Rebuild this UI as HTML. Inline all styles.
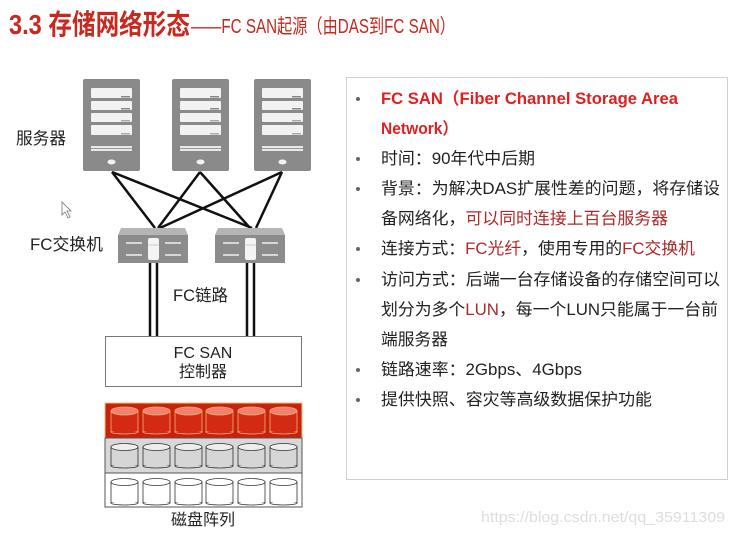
<!DOCTYPE html>
<html><head><meta charset="utf-8"><style>
html,body{margin:0;padding:0;background:#fff;}
body{width:733px;height:533px;overflow:hidden;position:relative;font-family:"Liberation Sans","Noto Sans CJK SC",sans-serif;}
</style></head><body>
<svg width="733" height="533" viewBox="0 0 733 533" xmlns="http://www.w3.org/2000/svg" style="position:absolute;left:0;top:0">
<defs>
<g id="srv">
<rect x="0" y="0" width="57" height="92" rx="2" fill="#8a8a8a"/>
<rect x="8" y="9" width="41" height="10" rx="1" fill="#f2f2f2"/>
<rect x="8" y="22" width="41" height="9" rx="1" fill="#f2f2f2"/>
<rect x="8" y="34" width="41" height="9" rx="1" fill="#f2f2f2"/>
<rect x="8" y="46" width="41" height="10" rx="1" fill="#f2f2f2"/>
<rect x="38" y="17" width="9" height="1.5" fill="#888"/>
<rect x="38" y="29" width="9" height="1.5" fill="#888"/>
<rect x="38" y="41" width="9" height="1.5" fill="#aaa"/>
<rect x="38" y="54" width="9" height="1.5" fill="#aaa"/>
<rect x="8" y="67" width="41" height="5" fill="#e8e8e8"/>
<rect x="8" y="69" width="41" height="1" fill="#999"/>
<ellipse cx="28.5" cy="83" rx="4" ry="2.5" fill="#f2f2f2"/>
</g>
<g id="sw">
<polygon points="3,0 67,0 70,7 0,7" fill="#b5b5b5"/>
<rect x="0" y="7" width="70" height="28" fill="#8c8c8c"/>
<rect x="30" y="10" width="11" height="22" rx="2" fill="#f4f4f4"/>
<line x1="30" y1="17" x2="41" y2="17" stroke="#ccc"/>
<g stroke="#eee" stroke-width="1.5" fill="none">
<line x1="8" y1="15" x2="24" y2="15"/><line x1="8" y1="27" x2="24" y2="27"/>
<line x1="47" y1="15" x2="63" y2="15"/><line x1="47" y1="27" x2="63" y2="27"/>
</g>
</g>
<g id="cr"><rect x="0" y="5" width="27" height="21" fill="#d42a14" stroke="#f5b070" stroke-width="0.8"/><ellipse cx="13.5" cy="26" rx="13.5" ry="2" fill="#d42a14" stroke="#f5b070" stroke-width="0.8"/><rect x="0.5" y="6" width="26" height="19" fill="#d42a14"/><ellipse cx="13.5" cy="5" rx="13.5" ry="4" fill="#f08070" stroke="#f5b070" stroke-width="0.8"/></g>
<g id="cg"><rect x="0" y="4" width="27" height="19" fill="#d6d6d6" stroke="#333" stroke-width="0.8"/><ellipse cx="13.5" cy="23" rx="13.5" ry="2" fill="#d6d6d6" stroke="#333" stroke-width="0.8"/><rect x="0.5" y="5" width="26" height="17" fill="#d6d6d6"/><ellipse cx="13.5" cy="4" rx="13.5" ry="3.5" fill="#eee" stroke="#333" stroke-width="0.8"/></g>
<g id="cw"><rect x="0" y="4" width="27" height="21" fill="#fff" stroke="#333" stroke-width="0.8"/><ellipse cx="13.5" cy="25" rx="13.5" ry="2" fill="#fff" stroke="#333" stroke-width="0.8"/><rect x="0.5" y="5" width="26" height="19" fill="#fff"/><ellipse cx="13.5" cy="4" rx="13.5" ry="3.5" fill="#fff" stroke="#333" stroke-width="0.8"/></g>
</defs>

<text x="9" y="34" font-size="28" font-weight="bold" fill="#c8281e" textLength="181" lengthAdjust="spacingAndGlyphs">3.3 存储网络形态</text>
<text x="191" y="33" font-size="20" fill="#c8281e" textLength="264" lengthAdjust="spacingAndGlyphs">——FC SAN起源（由DAS到FC SAN）</text>

<use href="#srv" x="83" y="79"/>
<use href="#srv" x="172" y="79"/>
<use href="#srv" x="254" y="79"/>

<g stroke="#111" stroke-width="2.5" fill="none">
<line x1="112" y1="172" x2="155" y2="228"/>
<line x1="112" y1="172" x2="252" y2="228"/>
<line x1="200" y1="172" x2="158" y2="228"/>
<line x1="200" y1="172" x2="250" y2="228"/>
<line x1="282" y1="172" x2="160" y2="228"/>
<line x1="282" y1="172" x2="256" y2="228"/>
<line x1="150" y1="263" x2="150" y2="336"/>
<line x1="157" y1="263" x2="157" y2="336"/>
<line x1="247" y1="263" x2="247" y2="336"/>
<line x1="254" y1="263" x2="254" y2="336"/>
</g>

<use href="#sw" x="118" y="228"/>
<use href="#sw" x="215" y="228"/>

<text x="16" y="144" font-size="16.5" fill="#222" textLength="50" lengthAdjust="spacingAndGlyphs">服务器</text>
<text x="30" y="250" font-size="16.5" fill="#222" textLength="73" lengthAdjust="spacingAndGlyphs">FC交换机</text>
<text x="173" y="301" font-size="16.5" fill="#222" textLength="55" lengthAdjust="spacingAndGlyphs">FC链路</text>
<path d="M62,202 L62,215 L65,212 L68,218 L70,217 L67,211 L71,211 Z" fill="#fff" stroke="#777" stroke-width="0.8"/>

<rect x="105.5" y="336.5" width="196" height="50" fill="#fff" stroke="#777"/>
<text x="203" y="358" font-size="16" fill="#222" text-anchor="middle">FC SAN</text>
<text x="203" y="377" font-size="16" fill="#222" text-anchor="middle">控制器</text>

<rect x="105" y="403" width="197" height="35" fill="#c8220e" stroke="#f2c070"/>
<rect x="105" y="438" width="197" height="35" fill="#d8d8d8" stroke="#555"/>
<rect x="105" y="473" width="197" height="34" fill="#fff" stroke="#555"/>
<use href="#cr" x="111" y="406"/><use href="#cr" x="143" y="406"/><use href="#cr" x="175" y="406"/><use href="#cr" x="206" y="406"/><use href="#cr" x="238" y="406"/><use href="#cr" x="270" y="406"/>
<use href="#cg" x="111" y="443"/><use href="#cg" x="143" y="443"/><use href="#cg" x="175" y="443"/><use href="#cg" x="206" y="443"/><use href="#cg" x="238" y="443"/><use href="#cg" x="270" y="443"/>
<use href="#cw" x="111" y="478"/><use href="#cw" x="143" y="478"/><use href="#cw" x="175" y="478"/><use href="#cw" x="206" y="478"/><use href="#cw" x="238" y="478"/><use href="#cw" x="270" y="478"/>
<text x="203" y="525" font-size="16" fill="#222" text-anchor="middle">磁盘阵列</text>

<rect x="346.5" y="77.5" width="381" height="402" fill="#fff" stroke="#d0d0d0"/>
<g fill="#666">
<circle cx="358" cy="99" r="2"/><circle cx="358" cy="159" r="2"/><circle cx="358" cy="189" r="2"/><circle cx="358" cy="249" r="2"/><circle cx="358" cy="280" r="2"/><circle cx="358" cy="370" r="2"/><circle cx="358" cy="400" r="2"/>
</g>
<g font-size="16.5" fill="#222">
<text x="381" y="104" font-weight="bold" fill="#e02020" textLength="297" lengthAdjust="spacingAndGlyphs">FC SAN（Fiber Channel Storage Area</text>
<text x="381" y="134" font-weight="bold" fill="#e02020" textLength="77" lengthAdjust="spacingAndGlyphs">Network）</text>
<text x="381" y="164" textLength="154" lengthAdjust="spacingAndGlyphs">时间：90年代中后期</text>
<text x="381" y="194" textLength="339" lengthAdjust="spacingAndGlyphs">背景：为解决DAS扩展性差的问题，将存储设</text>
<text x="381" y="224" textLength="287" lengthAdjust="spacingAndGlyphs">备网络化，<tspan fill="#b02828">可以同时连接上百台服务器</tspan></text>
<text x="381" y="254" textLength="314" lengthAdjust="spacingAndGlyphs">连接方式：<tspan fill="#b02828">FC光纤</tspan>，使用专用的<tspan fill="#b02828">FC交换机</tspan></text>
<text x="381" y="285" textLength="339" lengthAdjust="spacingAndGlyphs">访问方式：后端一台存储设备的存储空间可以</text>
<text x="381" y="315" textLength="337" lengthAdjust="spacingAndGlyphs">划分为多个<tspan fill="#b02828">LUN</tspan>，每一个LUN只能属于一台前</text>
<text x="381" y="345" textLength="67" lengthAdjust="spacingAndGlyphs">端服务器</text>
<text x="381" y="375" textLength="201" lengthAdjust="spacingAndGlyphs">链路速率：2Gbps、4Gbps</text>
<text x="381" y="405" textLength="271" lengthAdjust="spacingAndGlyphs">提供快照、容灾等高级数据保护功能</text>
</g>
<text x="481" y="522" font-size="15" fill="#ddd" textLength="244" lengthAdjust="spacingAndGlyphs">https://blog.csdn.net/qq_35911309</text>
</svg>
</body></html>
